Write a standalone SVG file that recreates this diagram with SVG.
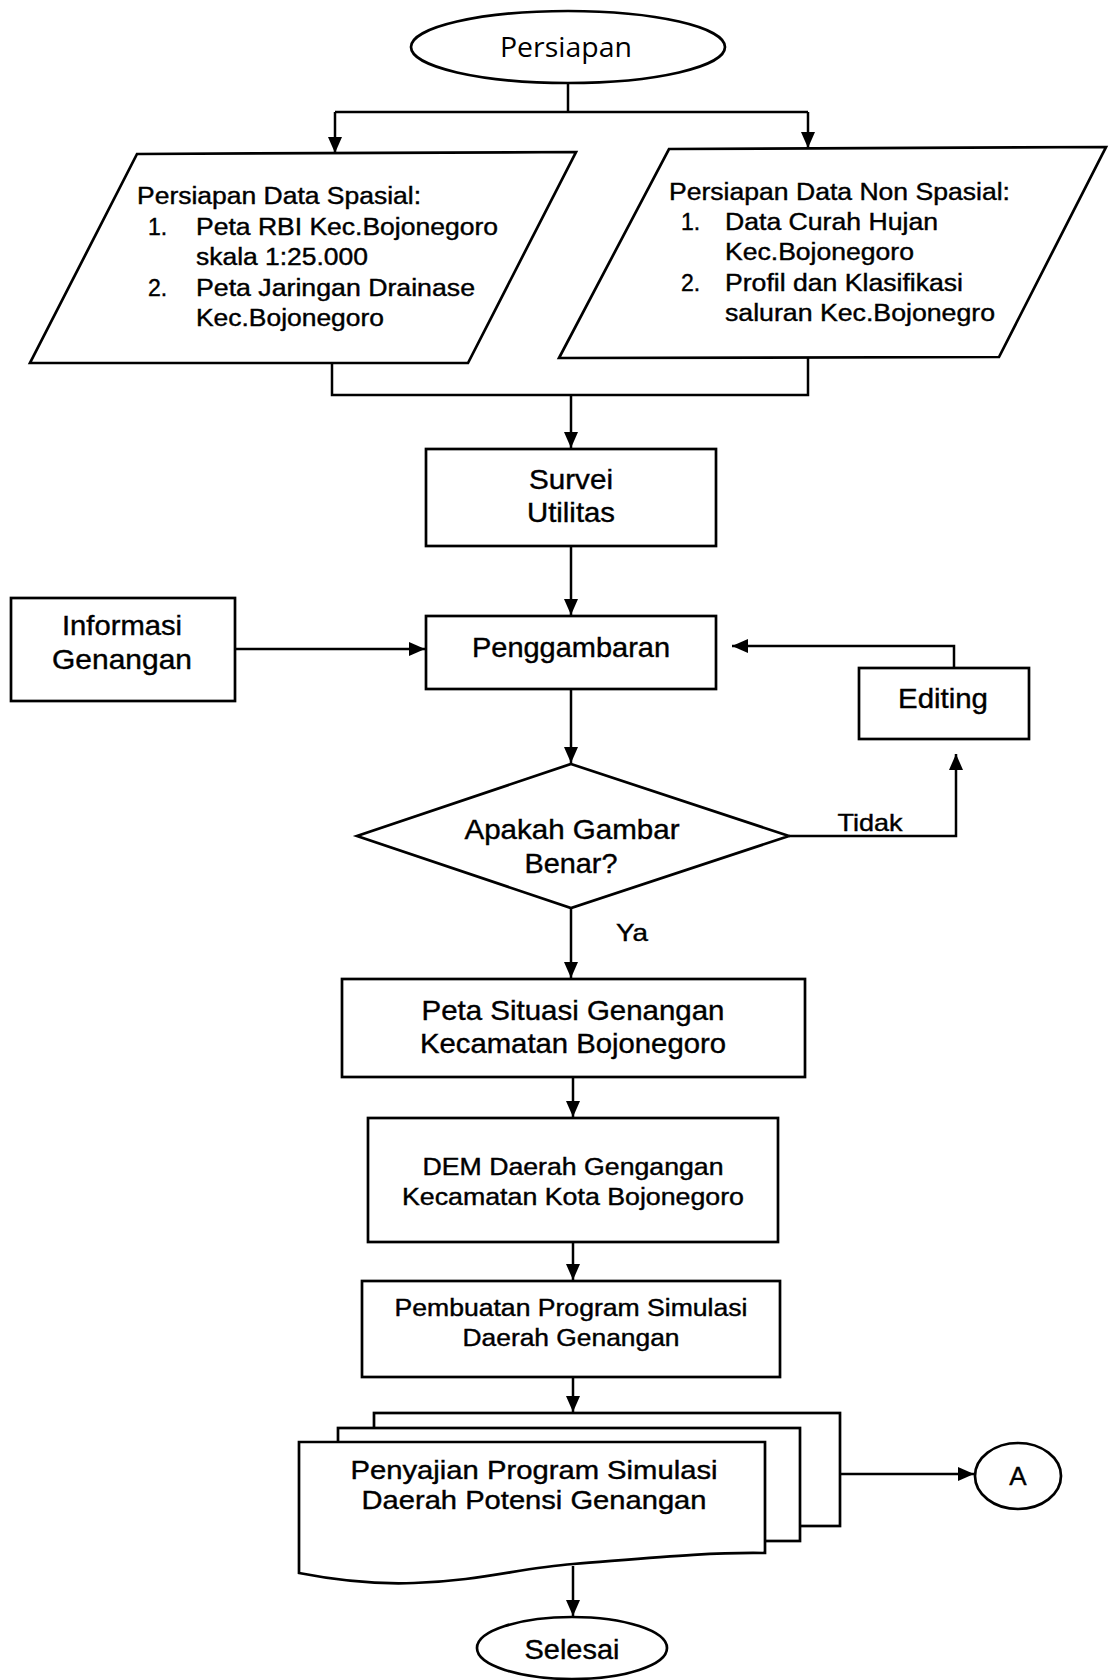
<svg xmlns="http://www.w3.org/2000/svg" width="1109" height="1680" viewBox="0 0 1109 1680">
<style>
.s{fill:#fff;stroke:#000;stroke-width:2.7}
.c{fill:none;stroke:#000;stroke-width:2.5}
.t{font-family:"Liberation Sans",Arial,sans-serif;fill:#000;stroke:#000;stroke-width:0.4}
.m{text-anchor:middle}
</style>
<defs>
<marker id="ah" viewBox="0 0 16 14" refX="16" refY="7" markerWidth="16" markerHeight="14" markerUnits="userSpaceOnUse" orient="auto"><path d="M0,0 L16,7 L0,14 z" fill="#000"/></marker>
</defs>
<rect width="1109" height="1680" fill="#fff"/>

<g id="connectors">
<path class="c" d="M568,83 V112"/>
<path class="c" d="M335,112 H808"/>
<path class="c" d="M335,112 V153" marker-end="url(#ah)"/>
<path class="c" d="M808,112 V148" marker-end="url(#ah)"/>
<path class="c" d="M332,363 V395 H808 V357"/>
<path class="c" d="M571,395 V448" marker-end="url(#ah)"/>
<path class="c" d="M571,546 V615" marker-end="url(#ah)"/>
<path class="c" d="M235,649 H425" marker-end="url(#ah)"/>
<path class="c" d="M954,668 V646 H732" marker-end="url(#ah)"/>
<path class="c" d="M571,689 V763" marker-end="url(#ah)"/>
<path class="c" d="M789,836 H956 V754" marker-end="url(#ah)"/>
<path class="c" d="M571,908 V978" marker-end="url(#ah)"/>
<path class="c" d="M573,1077 V1117" marker-end="url(#ah)"/>
<path class="c" d="M573,1242 V1280" marker-end="url(#ah)"/>
<path class="c" d="M573,1377 V1412" marker-end="url(#ah)"/>
<path class="c" d="M840,1474 H974" marker-end="url(#ah)"/>
<path class="c" d="M573,1566 V1616" marker-end="url(#ah)"/>
<text class="t m" x="870" y="831" font-size="24" textLength="65" lengthAdjust="spacingAndGlyphs">Tidak</text>
<text class="t m" x="632" y="941" font-size="24" textLength="32" lengthAdjust="spacingAndGlyphs">Ya</text>
</g>

<g id="persiapan">
<ellipse class="s" cx="568" cy="47" rx="157" ry="36"/>
<text x="566" y="57" font-family="'Open Sans',sans-serif" font-size="27" text-anchor="middle" textLength="132" lengthAdjust="spacingAndGlyphs">Persiapan</text>
</g>

<g id="data-spasial">
<polygon class="s" points="137,154 576,152 468,363 30,363"/>
<text class="t" x="137" y="204" font-size="23" textLength="284" lengthAdjust="spacingAndGlyphs">Persiapan Data Spasial:</text>
<text class="t" x="148" y="235" font-size="23">1.</text>
<text class="t" x="196" y="235" font-size="23" textLength="302" lengthAdjust="spacingAndGlyphs">Peta RBI Kec.Bojonegoro</text>
<text class="t" x="196" y="265" font-size="23" textLength="172" lengthAdjust="spacingAndGlyphs">skala 1:25.000</text>
<text class="t" x="148" y="296" font-size="23">2.</text>
<text class="t" x="196" y="296" font-size="23" textLength="279" lengthAdjust="spacingAndGlyphs">Peta Jaringan Drainase</text>
<text class="t" x="196" y="326" font-size="23" textLength="188" lengthAdjust="spacingAndGlyphs">Kec.Bojonegoro</text>
</g>

<g id="data-non-spasial">
<polygon class="s" points="669,149 1106,147 999,357 559,358"/>
<text class="t" x="669" y="200" font-size="23" textLength="341" lengthAdjust="spacingAndGlyphs">Persiapan Data Non Spasial:</text>
<text class="t" x="681" y="230" font-size="23">1.</text>
<text class="t" x="725" y="230" font-size="23" textLength="213" lengthAdjust="spacingAndGlyphs">Data Curah Hujan</text>
<text class="t" x="725" y="260" font-size="23" textLength="189" lengthAdjust="spacingAndGlyphs">Kec.Bojonegoro</text>
<text class="t" x="681" y="291" font-size="23">2.</text>
<text class="t" x="725" y="291" font-size="23" textLength="238" lengthAdjust="spacingAndGlyphs">Profil dan Klasifikasi</text>
<text class="t" x="725" y="321" font-size="23" textLength="270" lengthAdjust="spacingAndGlyphs">saluran Kec.Bojonegro</text>
</g>

<g id="survei">
<rect class="s" x="426" y="449" width="290" height="97"/>
<text class="t m" x="571" y="489" font-size="28" textLength="84" lengthAdjust="spacingAndGlyphs">Survei</text>
<text class="t m" x="571" y="522" font-size="28" textLength="88" lengthAdjust="spacingAndGlyphs">Utilitas</text>
</g>

<g id="informasi">
<rect class="s" x="11" y="598" width="224" height="103"/>
<text class="t m" x="122" y="635" font-size="28" textLength="120" lengthAdjust="spacingAndGlyphs">Informasi</text>
<text class="t m" x="122" y="669" font-size="28" textLength="140" lengthAdjust="spacingAndGlyphs">Genangan</text>
</g>

<g id="penggambaran">
<rect class="s" x="426" y="616" width="290" height="73"/>
<text class="t m" x="571" y="657" font-size="28" textLength="198" lengthAdjust="spacingAndGlyphs">Penggambaran</text>
</g>

<g id="editing">
<rect class="s" x="859" y="668" width="170" height="71"/>
<text class="t m" x="943" y="708" font-size="28" textLength="90" lengthAdjust="spacingAndGlyphs">Editing</text>
</g>

<g id="keputusan">
<polygon class="s" points="571,764 789,836 571,908 357,836"/>
<text class="t m" x="572" y="839" font-size="28" textLength="215" lengthAdjust="spacingAndGlyphs">Apakah Gambar</text>
<text class="t m" x="571" y="873" font-size="28" textLength="93" lengthAdjust="spacingAndGlyphs">Benar?</text>
</g>

<g id="peta-situasi">
<rect class="s" x="342" y="979" width="463" height="98"/>
<text class="t m" x="573" y="1020" font-size="28" textLength="303" lengthAdjust="spacingAndGlyphs">Peta Situasi Genangan</text>
<text class="t m" x="573" y="1053" font-size="28" textLength="306" lengthAdjust="spacingAndGlyphs">Kecamatan Bojonegoro</text>
</g>

<g id="dem">
<rect class="s" x="368" y="1118" width="410" height="124"/>
<text class="t m" x="573" y="1175" font-size="23" textLength="301" lengthAdjust="spacingAndGlyphs">DEM Daerah Gengangan</text>
<text class="t m" x="573" y="1205" font-size="23" textLength="342" lengthAdjust="spacingAndGlyphs">Kecamatan Kota Bojonegoro</text>
</g>

<g id="pembuatan">
<rect class="s" x="362" y="1281" width="418" height="96"/>
<text class="t m" x="571" y="1316" font-size="23" textLength="353" lengthAdjust="spacingAndGlyphs">Pembuatan Program Simulasi</text>
<text class="t m" x="571" y="1346" font-size="23" textLength="217" lengthAdjust="spacingAndGlyphs">Daerah Genangan</text>
</g>

<g id="penyajian">
<rect class="s" x="374" y="1413" width="466" height="113"/>
<rect class="s" x="338" y="1428" width="462" height="113"/>
<path class="s" d="M299,1442 H765 V1553 C710,1552 650,1558 573,1564 C520,1568 480,1581 414,1583 Q360,1585 299,1573 Z"/>
<text class="t m" x="534" y="1479" font-size="26" textLength="367" lengthAdjust="spacingAndGlyphs">Penyajian Program Simulasi</text>
<text class="t m" x="534" y="1509" font-size="26" textLength="345" lengthAdjust="spacingAndGlyphs">Daerah Potensi Genangan</text>
</g>

<g id="konektor-a">
<ellipse class="s" cx="1018" cy="1476" rx="43" ry="33"/>
<text class="t m" x="1018" y="1485" font-size="26">A</text>
</g>

<g id="selesai">
<ellipse class="s" cx="572" cy="1648" rx="95" ry="31"/>
<text class="t m" x="572" y="1659" font-size="28" textLength="95" lengthAdjust="spacingAndGlyphs">Selesai</text>
</g>
</svg>
